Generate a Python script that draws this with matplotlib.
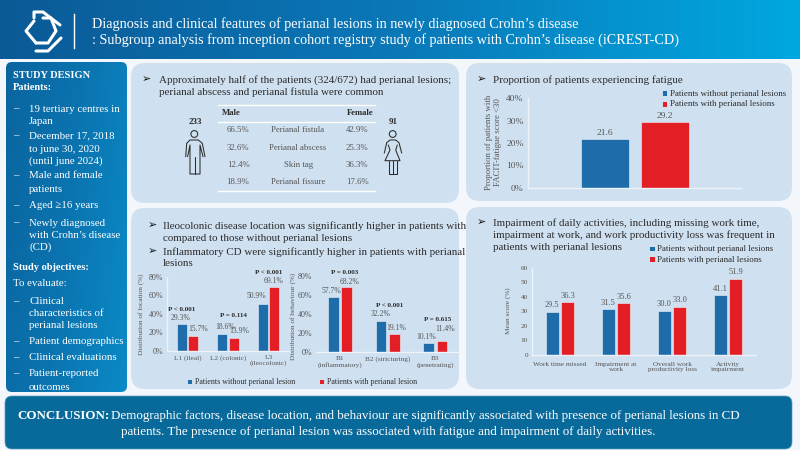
import numpy as np
import matplotlib
matplotlib.use('Agg')
import matplotlib.pyplot as plt
from matplotlib.colors import LinearSegmentedColormap
from matplotlib.patches import FancyBboxPatch, Rectangle, Circle

plt.rcParams['font.family'] = ['Liberation Serif', 'DejaVu Serif']

# Datos del grafico de localizacion
LOC_CATS = ['L1 (ileal)', 'L2 (colonic)', 'L3\n(ileocolonic)']
LOC_WITHOUT = [29.3, 18.6, 50.9]
LOC_WITH = [15.7, 13.9, 69.1]
LOC_P = ['P < 0.001', 'P = 0.114', 'P < 0.001']

# Datos del grafico de comportamiento
BEH_CATS = ['B1\n(inflammatory)', 'B2 (stricturing)', 'B3\n(penetrating)']
BEH_WITHOUT = [57.7, 32.2, 10.1]
BEH_WITH = [68.2, 19.1, 11.4]
BEH_P = ['P = 0.003', 'P < 0.001', 'P = 0.615']

# Fatiga
FATIGUE_WITHOUT = 21.6
FATIGUE_WITH = 29.2

# Actividades diarias
WORK_CATS = ['Work time missed', 'Impairment at\nwork', 'Overall work\nproductivity loss', 'Activity\nimpairment']
WORK_WITHOUT = [29.5, 31.5, 30.0, 41.1]
WORK_WITH = [36.3, 35.6, 33.0, 51.9]

# Tabla
TABLE_LABELS = ['Perianal fistula', 'Perianal abscess', 'Skin tag', 'Perianal fissure']
TABLE_MALE = ['66.5%', '32.6%', '12.4%', '18.9%']
TABLE_FEMALE = ['42.9%', '25.3%', '36.3%', '17.6%']
N_MALE = '233'
N_FEMALE = '91'

TITLE_LINES = ['Diagnosis and clinical features of perianal lesions in newly diagnosed Crohn\u2019s disease',
               ': Subgroup analysis from inception cohort registry study of patients with Crohn\u2019s disease (iCREST-CD)']

SIDE_ITEMS = [
    (75.5, 'STUDY DESIGN', 'head'), (88, 'Patients:', 'head'),
    (109, '19 tertiary centres in', 'dash'), (122, 'Japan', 'cont'),
    (136, 'December 17, 2018', 'dash'), (149, 'to june 30, 2020', 'cont'), (161, '(until june 2024)', 'cont'),
    (176, 'Male and female', 'dash'), (189, 'patients', 'cont'),
    (206, 'Aged \u226516 years', 'dash'),
    (223, 'Newly diagnosed', 'dash'), (235, 'with Crohn\u2019s disease', 'cont'), (247, '(CD)', 'cont'),
    (268, 'Study objectives:', 'head'), (284, 'To evaluate:', 'plain'),
    (302, 'Clinical', 'dash'), (314, 'characteristics of', 'cont'), (326, 'perianal lesions', 'cont'),
    (342, 'Patient demographics', 'dash'),
    (358, 'Clinical evaluations', 'dash'),
    (374, 'Patient-reported', 'dash'), (387, 'outcomes', 'cont'),
]

BLUE = '#1f6cab'
RED = '#e31e24'
PANEL = '#cfe0f0'
GREY = '#555555'
INK = '#2b2b2b'
W, H = 800, 450
BODY = 7.9


def px_axes(fig, x0, x1, y_top, y_bottom):
    """Crea unos ejes a partir de pixeles de la imagen"""
    ax = fig.add_axes([x0 / W, 1 - y_bottom / H, (x1 - x0) / W, (y_bottom - y_top) / H], zorder=2)
    ax.patch.set_alpha(0)
    for side in ['top', 'right']:
        ax.spines[side].set_visible(False)
    for side in ['left', 'bottom']:
        ax.spines[side].set_color('#edf3f9')
        ax.spines[side].set_linewidth(1)
    ax.tick_params(length=0, labelcolor=GREY, labelsize=5.2, pad=3)
    return ax


def draw_bars(ax, pos, values, offset, width, color, dx, dy, fmt, size=5.5):
    """Dibuja una serie de barras con su etiqueta"""
    xs = np.asarray(pos) + offset
    ax.bar(xs, values, width=width, color=color, edgecolor='#edf3f9', linewidth=0.4)
    for x, v, ox, oy in zip(xs, values, dx, dy):
        ax.annotate(fmt.format(v), (x, v), xytext=(ox * 0.72, oy * 0.72), textcoords='offset points',
                    ha='center', va='center', fontsize=size, color=GREY)


def rounded(ax, x0, y0, x1, y1, r, color, z=1, edge='none', lw=0):
    patch = FancyBboxPatch((x0 + r, y0 + r), x1 - x0 - 2 * r, y1 - y0 - 2 * r,
                           boxstyle=f'round,pad={r},rounding_size={r}',
                           facecolor=color, edgecolor=edge, linewidth=lw, zorder=z)
    ax.add_patch(patch)
    return patch


def arrow(ax, x, y):
    ax.text(x, y, '\u27a2', family='DejaVu Sans', fontsize=8, ha='center', va='center', color='#111111')


def legend_row(ax, x, y, color, label, size=6.4):
    ax.add_patch(Rectangle((x - 2.3, y - 2.3), 4.6, 4.6, facecolor=color, edgecolor='none'))
    ax.text(x + 4.6, y, label, fontsize=size, color=INK, va='center', ha='left')


def polyline(ax, pts, color=INK, lw=0.75):
    xs, ys = zip(*pts)
    ax.plot(xs, ys, color=color, lw=lw, solid_joinstyle='round', solid_capstyle='round')


fig = plt.figure(figsize=(8, 4.5), dpi=100, facecolor='#f3f6fb')
bg = fig.add_axes([0, 0, 1, 1], zorder=1)
bg.set_xlim(0, W)
bg.set_ylim(H, 0)
bg.axis('off')

# Cabecera con degradado
header_cmap = LinearSegmentedColormap.from_list('hdr', ['#0b5a96', '#0a78b8', '#00a8e0'])
bg.imshow(np.linspace(0, 1, 256).reshape(1, -1), extent=[0, W, 59, 0], cmap=header_cmap,
          aspect='auto', zorder=0)

# Logo
for pts in ([(34, 21), (26, 31), (36, 43)],
            [(34, 18), (34, 12), (43, 12), (60, 25)],
            [(43, 18), (51, 18), (56, 31), (48, 43), (36, 43)],
            [(36, 51), (48, 51), (61, 38)]):
    polyline(bg, pts, color='white', lw=2.2)
bg.plot([74, 74], [14, 48], color='white', lw=1)

for y, line in zip([24, 40], TITLE_LINES):
    bg.text(92, y, line, color='white', fontsize=10.2, va='center', ha='left')

# Panel lateral con degradado
side = rounded(bg, 6, 62, 127, 392, 6, 'none', z=1)
gx, gy = np.meshgrid(np.linspace(0, 1, 60), np.linspace(0, 1, 120))
side_cmap = LinearSegmentedColormap.from_list('side', ['#0a659f', '#0a74b0', '#0a8ac6'])
img = bg.imshow(0.75 * gx + 0.25 * gy, extent=[6, 127, 392, 62], cmap=side_cmap, aspect='auto', zorder=1)
img.set_clip_path(side)
bg.set_xlim(0, W)
bg.set_ylim(H, 0)

for y, text, kind in SIDE_ITEMS:
    if kind == 'head':
        bg.text(13, y, text, color='white', fontsize=7.5, fontweight='bold', va='center')
    elif kind == 'plain':
        bg.text(13, y, text, color='white', fontsize=7.8, va='center')
    else:
        if kind == 'dash':
            bg.text(13, y, '\u2013', color='white', fontsize=7.8, va='center')
        bg.text(29, y, text, color='white', fontsize=7.8, va='center')

# Paneles
rounded(bg, 131, 63, 459, 203, 14, PANEL)
rounded(bg, 131, 208, 459, 389, 14, PANEL)
rounded(bg, 466, 63, 792, 201, 14, PANEL)
rounded(bg, 466, 207, 792, 389, 14, PANEL)
rounded(bg, 5, 396, 792, 449, 7, '#076a9b', edge='#5f9dc0', lw=0.5)

# Panel 1: texto y tabla
arrow(bg, 146, 79)
bg.text(159, 80, 'Approximately half of the patients (324/672) had perianal lesions;', fontsize=BODY, color=INK, va='center')
bg.text(159, 92, 'perianal abscess and perianal fistula were common', fontsize=BODY, color=INK, va='center')

for y in [105, 122, 191]:
    bg.plot([218, 375], [y, y], color='white', lw=1)
bg.text(222, 113, 'Male', fontsize=6.2, fontweight='bold', color=INK, va='center')
bg.text(360, 113, 'Female', fontsize=6.2, fontweight='bold', color=INK, va='center', ha='center')
for y, lab, m, f in zip([130, 147.5, 165, 182], TABLE_LABELS, TABLE_MALE, TABLE_FEMALE):
    bg.text(238, y, m, fontsize=6.3, color=GREY, ha='center', va='center')
    bg.text(298, y, lab, fontsize=6.3, color=GREY, ha='center', va='center')
    bg.text(357, y, f, fontsize=6.3, color=GREY, ha='center', va='center')
bg.text(195, 122, N_MALE, fontsize=6.4, fontweight='bold', color=INK, ha='center', va='center')
bg.text(393, 122, N_FEMALE, fontsize=6.4, fontweight='bold', color=INK, ha='center', va='center')

# Iconos de hombre y mujer
bg.add_patch(Circle((194.3, 134), 3.4, facecolor='none', edgecolor=INK, lw=0.75))
polyline(bg, [(185.7, 156.7), (186.7, 143.3), (190, 140), (198.3, 140), (202.3, 143.3), (205, 156.7)])
polyline(bg, [(187.6, 156.7), (190, 145), (190, 174), (200, 174), (200, 145), (203, 156.7)])
polyline(bg, [(195, 157), (195, 174)])

bg.add_patch(Circle((392.7, 134), 3.4, facecolor='none', edgecolor=INK, lw=0.75))
polyline(bg, [(384.3, 153), (386.7, 142.7), (390, 140), (395.7, 140), (399, 142.7), (401.7, 153)])
polyline(bg, [(388.3, 145), (390, 150), (385, 160.7), (400, 160.7), (395.7, 150), (397.3, 145)])
polyline(bg, [(389, 160.7), (389, 174), (396.7, 174), (396.7, 160.7)])
polyline(bg, [(392.7, 160.7), (392.7, 174)])

# Panel 3: texto
arrow(bg, 152, 225)
arrow(bg, 152, 251)
for y, line in zip([226, 238.7, 251.7, 263.7],
                   ['Ileocolonic disease location was significantly higher in patients with',
                    'compared to those without perianal lesions',
                    'Inflammatory CD were significantly higher in patients with perianal',
                    'lesions']):
    bg.text(163, y, line, fontsize=BODY, color=INK, va='center')

# Grafico de localizacion
ax = px_axes(fig, 167, 289, 276.7, 351)
pos = np.arange(len(LOC_CATS))
draw_bars(ax, pos, LOC_WITHOUT, -0.139, 0.246, BLUE, [-1, 2.5, -7], [6, 7, 7.6], '{:.1f}%')
draw_bars(ax, pos, LOC_WITH, 0.139, 0.246, RED, [5, 6, -1], [7, 7, 5.7], '{:.1f}%')
ax.set_xlim(-0.5, 2.5)
ax.set_ylim(0, 80)
ax.set_yticks([0, 20, 40, 60, 80], ['0%', '20%', '40%', '60%', '80%'])
ax.tick_params(axis='y', labelsize=5.8)
ax.set_xticks(pos, LOC_CATS, linespacing=1.1)
bg.text(141, 314, 'Distribution of location (%)', rotation=90, fontsize=5.2, color=GREY, ha='center', va='center')
for x, y, p in zip([181.7, 233.3, 268.7], [309.7, 315.7, 272], LOC_P):
    bg.text(x, y, p, fontsize=5, fontweight='bold', color=INK, ha='center', va='center')

# Grafico de comportamiento
ax = px_axes(fig, 316.2, 459, 275.7, 352.3)
pos = np.arange(len(BEH_CATS))
draw_bars(ax, pos, BEH_WITHOUT, -0.14, 0.224, BLUE, [-2, 0, -2], [6.5, 7, 6], '{:.1f}%')
draw_bars(ax, pos, BEH_WITH, 0.14, 0.224, RED, [3, 2, 3], [5, 6, 12], '{:.1f}%')
ax.set_xlim(-0.5, 2.5)
ax.set_ylim(0, 80)
ax.spines['left'].set_visible(False)
ax.set_yticks([0, 20, 40, 60, 80], ['0%', '20%', '40%', '60%', '80%'])
ax.tick_params(axis='y', labelsize=5.8)
ax.set_xticks(pos, BEH_CATS, linespacing=1.1)
bg.text(293, 316, 'Distribution of behaviour (%)', rotation=90, fontsize=5.2, color=GREY, ha='center', va='center')
for x, y, p in zip([345, 390, 437.7], [272, 305.7, 319.3], BEH_P):
    bg.text(x, y, p, fontsize=5, fontweight='bold', color=INK, ha='center', va='center')

legend_row(bg, 190, 382, BLUE, 'Patients without perianal lesion', size=5.7)
legend_row(bg, 322, 382, RED, 'Patients with perianal lesion', size=5.7)

# Panel 2: fatiga
arrow(bg, 481, 79)
bg.text(493, 80, 'Proportion of patients experiencing fatigue', fontsize=BODY, color=INK, va='center')
ax = px_axes(fig, 528, 741, 98, 188)
draw_bars(ax, [0.502], [FATIGUE_WITHOUT], -0.141, 0.225, BLUE, [0], [6.5], '{:.1f}', size=6.8)
draw_bars(ax, [0.502], [FATIGUE_WITH], 0.141, 0.225, RED, [0], [6], '{:.1f}', size=6.8)
ax.set_xlim(0, 1)
ax.set_ylim(0, 40)
ax.set_xticks([])
ax.set_yticks([0, 10, 20, 30, 40], ['0%', '10%', '20%', '30%', '40%'])
ax.tick_params(axis='y', labelsize=6.8)
bg.text(489, 142, 'Proportion of patients with', rotation=90, fontsize=6.3, color=GREY, ha='center', va='center')
bg.text(498, 142, 'FACIT-fatigue score <30', rotation=90, fontsize=6.3, color=GREY, ha='center', va='center')
legend_row(bg, 665, 93.7, BLUE, 'Patients without perianal lesions')
legend_row(bg, 665, 104.5, RED, 'Patients with perianal lesions')

# Panel 4: actividades diarias
arrow(bg, 481, 222)
for y, line in zip([223, 235.5, 248],
                   ['Impairment of daily activities, including missing work time,',
                    'impairment at work, and work productivity loss was frequent in',
                    'patients with perianal lesions']):
    bg.text(493, y, line, fontsize=BODY, color=INK, va='center')
legend_row(bg, 652.7, 249, BLUE, 'Patients without perianal lesions')
legend_row(bg, 652.7, 259.5, RED, 'Patients with perianal lesions')

ax = px_axes(fig, 532, 756, 267.7, 354.7)
pos = np.arange(len(WORK_CATS))
draw_bars(ax, pos, WORK_WITHOUT, -0.142, 0.232, BLUE, [0, 0, 0, 0], [7, 6, 7, 6.5], '{:.1f}', size=6)
draw_bars(ax, pos, WORK_WITH, 0.142, 0.232, RED, [0, 0, 0, 0], [6.5, 6.5, 6.5, 7], '{:.1f}', size=6)
ax.set_xlim(-0.5, 3.5)
ax.set_ylim(0, 60)
ax.set_yticks([0, 10, 20, 30, 40, 50, 60])
ax.set_xticks(pos, WORK_CATS, linespacing=1.1)
ax.tick_params(axis='x', pad=5)
bg.text(508, 311, 'Mean score (%)', rotation=90, fontsize=5.2, color=GREY, ha='center', va='center')

# Conclusion
bg.text(17, 416, 'CONCLUSION:', color='white', fontsize=9.4, fontweight='bold', va='center', ha='left')
bg.text(111, 416, 'Demographic factors, disease location, and behaviour are significantly associated with presence of perianal lesions in CD',
        color='white', fontsize=9.4, va='center', ha='left')
bg.text(388, 432, 'patients. The presence of perianal lesion was associated with fatigue and impairment of daily activities.',
        color='white', fontsize=9.4, va='center', ha='center')

fig.savefig('out.png', dpi=100, facecolor=fig.get_facecolor())
